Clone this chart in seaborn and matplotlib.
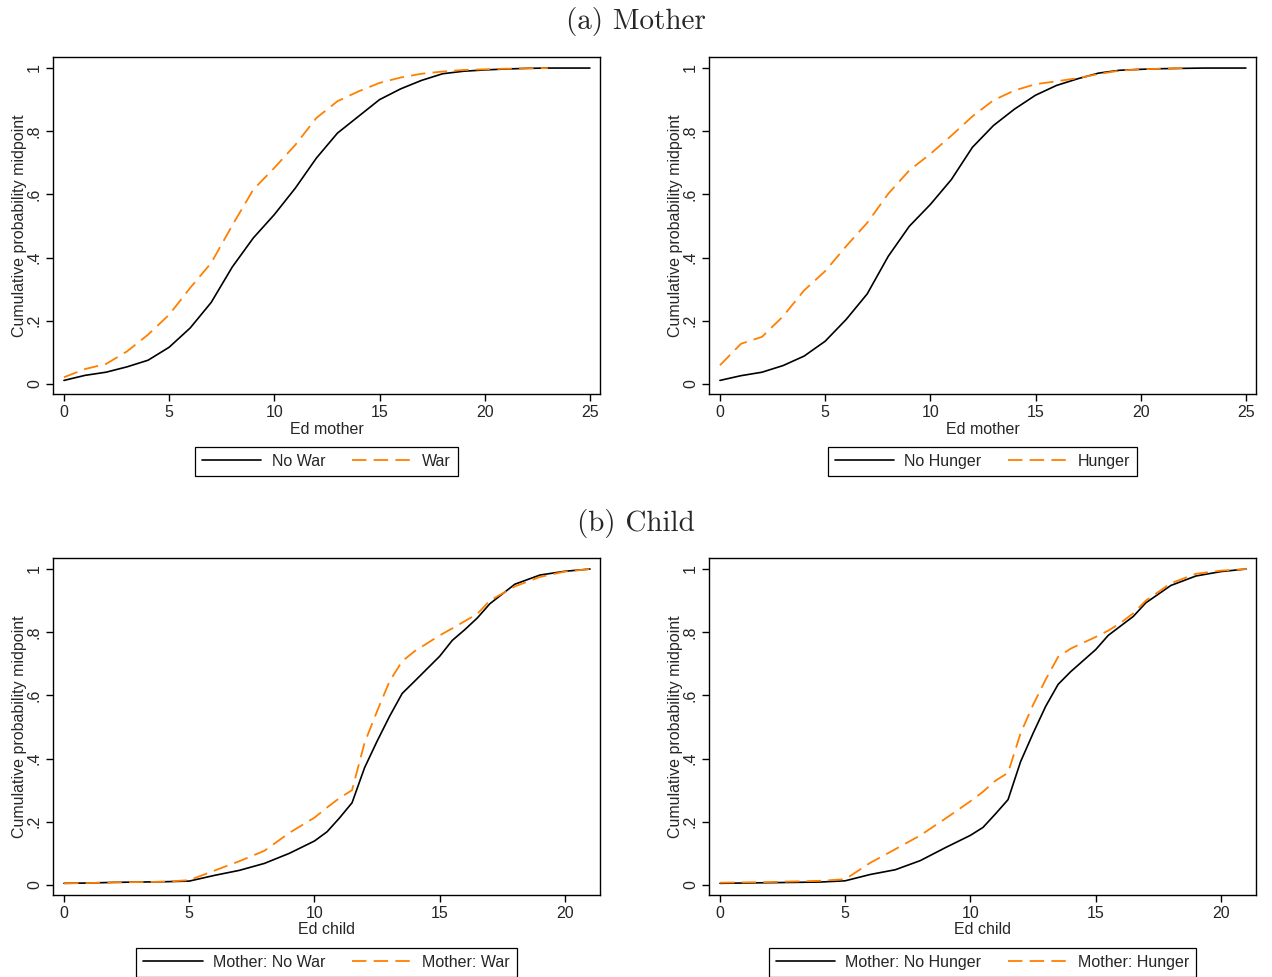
import matplotlib
matplotlib.use("Agg")
import matplotlib.pyplot as plt
import seaborn as sns
import pandas as pd

# Mother's education: cumulative probability midpoints
ed_mother = list(range(26))
nowar_mother = [0.011, 0.027, 0.037, 0.054, 0.075, 0.116, 0.177, 0.258, 0.370, 0.462,
                0.536, 0.620, 0.715, 0.794, 0.847, 0.900, 0.934, 0.961, 0.982, 0.990,
                0.994, 0.997, 0.999, 1.0, 1.0, 1.0]
war_mother = [0.021, 0.047, 0.063, 0.103, 0.156, 0.219, 0.304, 0.383, 0.502, 0.615,
              0.684, 0.757, 0.842, 0.895, 0.926, 0.953, 0.970, 0.982, 0.989, 0.994,
              0.996, 0.998, 0.999, 1.0]
nohunger_mother = [0.011, 0.026, 0.037, 0.058, 0.088, 0.135, 0.204, 0.285, 0.404, 0.499,
                   0.568, 0.647, 0.749, 0.818, 0.870, 0.914, 0.945, 0.966, 0.984, 0.993,
                   0.996, 0.998, 0.999, 1.0, 1.0, 1.0]
hunger_mother = [0.059, 0.127, 0.149, 0.214, 0.296, 0.357, 0.436, 0.510, 0.602, 0.676,
                 0.728, 0.786, 0.847, 0.898, 0.929, 0.949, 0.958, 0.968, 0.981, 0.992,
                 0.996, 0.998, 1.0]

# Child's education
ed_child = [0, 1, 2, 3, 4, 5, 6, 7, 8, 9, 10, 10.5, 11, 11.5, 12, 12.5, 13, 13.5, 14,
            15, 15.5, 16, 16.5, 17, 18, 19, 20, 21]
nowar_child = [0.005, 0.006, 0.008, 0.009, 0.010, 0.012, 0.030, 0.046, 0.068, 0.100,
               0.139, 0.168, 0.212, 0.260, 0.371, 0.455, 0.534, 0.606, 0.645, 0.724,
               0.774, 0.808, 0.845, 0.890, 0.952, 0.981, 0.993, 1.0]
war_child = [0.005, 0.006, 0.008, 0.009, 0.010, 0.015, 0.045, 0.075, 0.108, 0.165,
             0.213, 0.245, 0.275, 0.300, 0.450, 0.550, 0.645, 0.708, 0.740, 0.790,
             0.812, 0.835, 0.858, 0.900, 0.945, 0.975, 0.992, 1.0]
nohunger_child = [0.005, 0.006, 0.007, 0.008, 0.009, 0.013, 0.033, 0.048, 0.077, 0.118,
                  0.157, 0.182, 0.225, 0.270, 0.390, 0.480, 0.565, 0.635, 0.675, 0.745,
                  0.790, 0.820, 0.850, 0.893, 0.948, 0.978, 0.992, 1.0]
hunger_child = [0.007, 0.008, 0.009, 0.011, 0.013, 0.018, 0.070, 0.113, 0.157, 0.210,
                0.265, 0.295, 0.330, 0.355, 0.480, 0.570, 0.650, 0.722, 0.748, 0.785,
                0.805, 0.830, 0.860, 0.900, 0.955, 0.985, 0.995, 1.0]

panels = [
    # (frame in px, x, base, treated, labels, xlabel, xticks, xlim)
    ([53, 57, 600, 394], ed_mother, nowar_mother, war_mother, ["No War", "War"],
     "Ed mother", [0, 5, 10, 15, 20, 25], (-0.52, 25.48)),
    ([709, 57, 1256, 394], ed_mother, nohunger_mother, hunger_mother, ["No Hunger", "Hunger"],
     "Ed mother", [0, 5, 10, 15, 20, 25], (-0.52, 25.48)),
    ([53, 558, 600, 895], ed_child, nowar_child, war_child,
     ["Mother: No War", "Mother: War"], "Ed child", [0, 5, 10, 15, 20], (-0.44, 21.4)),
    ([709, 558, 1256, 895], ed_child, nohunger_child, hunger_child,
     ["Mother: No Hunger", "Mother: Hunger"], "Ed child", [0, 5, 10, 15, 20], (-0.44, 21.4)),
]

sns.set_style("white")
plt.rcParams["font.family"] = ["Liberation Sans", "DejaVu Sans"]

W, H = 1272, 977
fig = plt.figure(figsize=(W / 100, H / 100), dpi=100)
orange = "#FF8000"

for (l, t, r, b), x, base, treat, labels, xlabel, xticks, xlim in panels:
    ax = fig.add_axes([l / W, 1 - b / H, (r - l) / W, (b - t) / H])
    df0 = pd.DataFrame({"x": x[:len(base)], "y": base})
    df1 = pd.DataFrame({"x": x[:len(treat)], "y": treat})
    sns.lineplot(data=df0, x="x", y="y", ax=ax, color="black", linewidth=1.2,
                 label=labels[0])
    sns.lineplot(data=df1, x="x", y="y", ax=ax, color=orange, linewidth=1.3,
                 linestyle=(0, (8, 4)), label=labels[1])
    ax.set_xlim(*xlim)
    ax.set_ylim(-0.032, 1.035)
    ax.set_xticks(xticks)
    ax.set_xticklabels([str(v) for v in xticks], fontsize=11.5)
    ax.set_yticks([0, 0.2, 0.4, 0.6, 0.8, 1])
    ax.set_yticklabels(["0", ".2", ".4", ".6", ".8", "1"], fontsize=11.5,
                       rotation=90, va="center")
    ax.tick_params(axis="both", direction="out", length=5, width=1, color="black",
                   bottom=True, left=True, pad=3)
    ax.set_xlabel(xlabel, fontsize=11.5, labelpad=1)
    ax.set_ylabel("Cumulative probability midpoint", fontsize=11.5, labelpad=0)
    for s in ax.spines.values():
        s.set_color("black")
        s.set_linewidth(1.0)
    leg = ax.legend(loc="upper center", bbox_to_anchor=(0.5, -0.156), ncol=2,
                    frameon=True, fancybox=False, edgecolor="black", framealpha=1,
                    fontsize=11.5, handlelength=3.7, columnspacing=1.7,
                    borderpad=0.45, handletextpad=0.65, borderaxespad=0)
    leg.get_frame().set_linewidth(0.9)

fig.text(0.5, 1 - 22 / H, "(a) Mother", ha="center", va="center",
         fontsize=21, family="cmr10")
fig.text(0.5, 1 - 523 / H, "(b) Child", ha="center", va="center",
         fontsize=21, family="cmr10")

fig.savefig("out.png", dpi=100, facecolor="white")
